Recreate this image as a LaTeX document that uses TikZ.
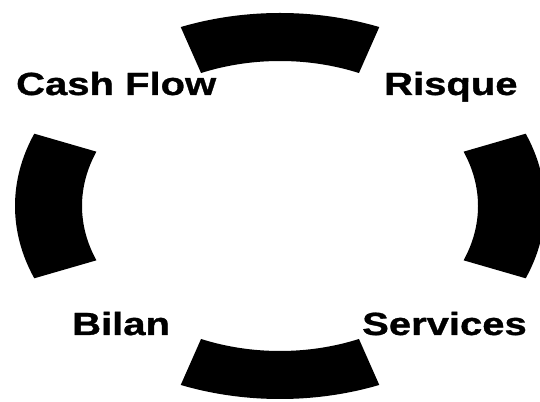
\documentclass[tikz,border=0pt]{standalone}
\usepackage{fontspec}
\newfontfamily\labelfont[FakeStretch=1.25, FakeBold=1]{Liberation Sans}

\begin{document}
\begin{tikzpicture}[
  x=1pt, y=1pt,
  seg/.style={fill=black},
  lab/.style={anchor=base west, inner sep=0pt,
    font=\labelfont\bfseries\fontsize{32}{32}\selectfont}
]
\useasboundingbox (0,0) rectangle (540,401);

% --- the four black pieces of the elliptic ring ---
\begin{scope}[shift={(280,195)}]
  \foreach \a/\w in {0/22, 90/23.5, 180/22, 270/23.5}
    \fill[seg] (\a-22:265pt and 193pt)
      arc[start angle=\a-22, end angle=\a+22, x radius=265pt, y radius=193pt]
      -- (\a+\w:198pt and 145pt)
      arc[start angle=\a+\w, end angle=\a-\w, x radius=198pt, y radius=145pt]
      -- cycle;
\end{scope}

% --- labels in the four corners ---
\node[lab] (cash)  at (16,306)  {Cash Flow};
\node[lab] (risk)  at (384,306) {Risque};
\node[lab] (bilan) at (72,66)   {Bilan};
\node[lab] (serv)  at (362,66)  {Services};

\end{tikzpicture}
\end{document}
